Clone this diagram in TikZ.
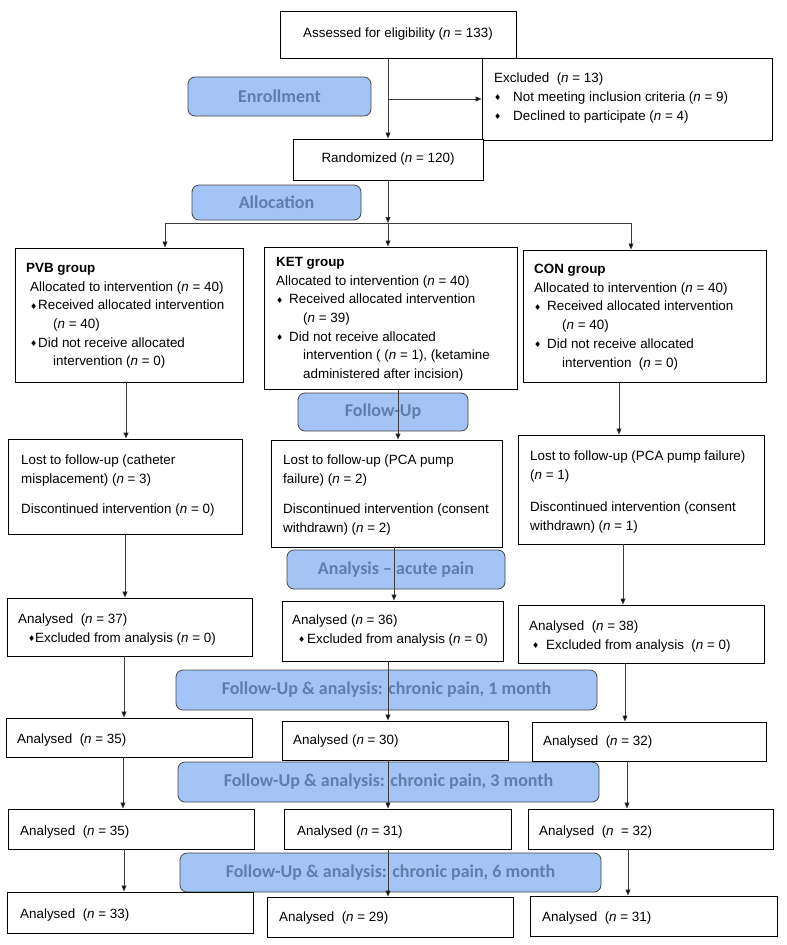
\documentclass[tikz,border=0pt]{standalone}
\usepackage{fontspec}
\setmainfont{Liberation Sans}
\newfontfamily\pillfont{Carlito}
\newfontfamily\dvfont{DejaVu Sans}
\usetikzlibrary{arrows.meta,calc}
\definecolor{pillfill}{RGB}{164,196,245}
\definecolor{pilltext}{RGB}{95,126,175}
\definecolor{pillline}{RGB}{70,70,70}
\definecolor{lineg}{RGB}{60,60,60}
\newcommand\dmd{{\dvfont\fontsize{8}{8}\selectfont\raisebox{0.8pt}{♦}}}
\newcommand\bul[1][8pt]{\makebox[#1][l]{\dmd}}
\newcommand\nn{\textit{n}}
\newcommand\bx[7]{\node[#1, minimum width={(#5-#3)*1pt}, minimum height={(#6-#4)*1pt}] (#2) at ({(#3+#5)/2},{(#4+#6)/2}) {#7};}
\begin{document}
\begin{tikzpicture}[x=1pt,y=-1pt,
  box/.style={draw=black, line width=0.9pt, fill=white, inner sep=0pt, font=\fontsize{13.4}{19}\selectfont},
  pill/.style={draw=pillline, line width=0.8pt, fill=pillfill, rounded corners=7pt, inner sep=0pt, text=pilltext, font=\pillfont\bfseries\fontsize{18}{18}\selectfont},
  txt/.style={anchor=north west, inner sep=0pt, align=left, font=\fontsize{13.4}{18.7}\selectfont},
  arr/.style={draw=lineg, line width=0.8pt, -{Triangle[length=6pt,width=5pt,fill=black]}},
  ln/.style={draw=lineg, line width=0.8pt}]
\fill[white] (0,0) rectangle (787,945);
\useasboundingbox (0,0) rectangle (787,945);
% pills
\bx{pill}{penr}{188}{77}{371}{116}{Enrollment}
\bx{pill}{palloc}{192}{185}{361}{220}{Allocation}
\bx{pill}{pfol}{298}{393}{468}{431}{Follow-Up}
\bx{pill}{pacute}{287}{550}{505}{589}{Analysis – acute pain}
\bx{pill}{pone}{176}{670}{597}{710}{Follow-Up \& analysis: chronic pain, 1 month}
\bx{pill}{pthree}{178}{762}{599}{802}{Follow-Up \& analysis: chronic pain, 3 month}
\bx{pill}{psix}{180}{853}{601}{892}{Follow-Up \& analysis: chronic pain, 6 month}
% boxes
\bx{box}{assess}{280}{11}{516}{58}{Assessed for eligibility (\nn{} = 133)}
\bx{box}{excl}{482}{58}{772}{140}{}
\bx{box}{rand}{293}{139}{483}{180}{Randomized (\nn{} = 120)}
\bx{box}{pvb}{15}{248}{243}{382}{}
\bx{box}{ket}{264}{247}{517}{389}{}
\bx{box}{con}{523}{250}{766}{382}{}
\bx{box}{pvbL}{8}{439}{242}{534}{}
\bx{box}{ketL}{271}{440}{502}{547}{}
\bx{box}{conL}{518}{435}{764}{544}{}
\bx{box}{pvbA}{7}{598}{252}{656}{}
\bx{box}{ketA}{282}{601}{503}{661}{}
\bx{box}{conA}{518}{605}{764}{663}{}
\bx{box}{pvbB}{6}{718}{252}{757}{}
\bx{box}{ketB}{282}{721}{508}{760}{}
\bx{box}{conB}{532}{722}{766}{761}{}
\bx{box}{pvbC}{8}{809}{254}{849}{}
\bx{box}{ketC}{284}{809}{511}{849}{}
\bx{box}{conC}{528}{809}{773}{849}{}
\bx{box}{pvbD}{7}{892}{253}{933}{}
\bx{box}{ketD}{267}{897}{513}{937}{}
\bx{box}{conD}{530}{896}{777}{936}{}
% texts
\node[txt] (texcl) at (494,73) {Excluded\ \ (\nn{} = 13)\\\bul[19pt]Not meeting inclusion criteria (\nn{} = 9)\\\bul[19pt]Declined to participate (\nn{} = 4)};
\node[txt] (tpvb) at (26,263) {\textbf{PVB group}\\\hspace*{4pt}Allocated to intervention (\nn{} = 40)\\\hspace*{4pt}\bul[8pt]Received allocated intervention\\\hspace*{27pt}(\nn{} = 40)\\\hspace*{4pt}\bul[8pt]Did not receive allocated\\\hspace*{27pt}intervention (\nn{} = 0)};
\node[txt] (tket) at (276,257) {\textbf{KET group}\\Allocated to intervention (\nn{} = 40)\\\bul[13pt]Received allocated intervention\\\hspace*{27pt}(\nn{} = 39)\\\bul[13pt]Did not receive allocated\\\hspace*{27pt}intervention ( (\nn{} = 1), (ketamine\\\hspace*{27pt}administered after incision)};
\node[txt] (tcon) at (534,264) {\textbf{CON group}\\Allocated to intervention (\nn{} = 40)\\\bul[13pt]Received allocated intervention\\\hspace*{28pt}(\nn{} = 40)\\\bul[13pt]Did not receive allocated\\\hspace*{28pt}intervention\ \ (\nn{} = 0)};
\node[txt] (tpvbL1) at (21,455) {Lost to follow-up (catheter\\misplacement) (\nn{} = 3)};
\node[txt] (tpvbL2) at (21,504) {Discontinued intervention (\nn{} = 0)};
\node[txt] (tketL1) at (283,455) {Lost to follow-up (PCA pump\\failure) (\nn{} = 2)};
\node[txt] (tketL2) at (283,504) {Discontinued intervention (consent\\withdrawn) (\nn{} = 2)};
\node[txt] (tconL1) at (530,451) {Lost to follow-up (PCA pump failure)\\(\nn{} = 1)};
\node[txt] (tconL2) at (530,502) {Discontinued intervention (consent\\withdrawn) (\nn{} = 1)};
\node[txt] (tpvbA) at (18,614) {Analysed\ \ (\nn{} = 37)\\\hspace*{10pt}\bul[7pt]Excluded from analysis (\nn{} = 0)};
\node[txt] (tketA) at (292,615) {Analysed (\nn{} = 36)\\\hspace*{6pt}\bul[9pt]Excluded from analysis (\nn{} = 0)};
\node[txt] (tconA) at (529,621) {Analysed\ \ (\nn{} = 38)\\\hspace*{3pt}\bul[14pt]Excluded from analysis\ \ (\nn{} = 0)};
\node[txt] (tpvbB) at (17,734) {Analysed\ \ (\nn{} = 35)};
\node[txt] (tketB) at (293,735) {Analysed (\nn{} = 30)};
\node[txt] (tconB) at (543,736) {Analysed\ \ (\nn{} = 32)};
\node[txt] (tpvbC) at (20,826) {Analysed\ \ (\nn{} = 35)};
\node[txt] (tketC) at (297,826) {Analysed (\nn{} = 31)};
\node[txt] (tconC) at (539,826) {Analysed\ \ (\nn{}\ \ = 32)};
\node[txt] (tpvbD) at (20,909) {Analysed\ \ (\nn{} = 33)};
\node[txt] (tketD) at (279,912) {Analysed\ \ (\nn{} = 29)};
\node[txt] (tconD) at (542,912) {Analysed\ \ (\nn{} = 31)};
% column coordinates
\coordinate (split) at (388,223);
\coordinate (splitA) at (165,223);
\coordinate (splitC) at (631,223);
\coordinate (ca1) at (126,0);
\coordinate (ca2) at (125,0);
\coordinate (ca3) at (124,0);
\coordinate (ca4) at (123,0);
\coordinate (cb1) at (398,0);
\coordinate (cb2) at (394,0);
\coordinate (cb3) at (388,0);
\coordinate (cc1) at (619,0);
\coordinate (cc2) at (623,0);
\coordinate (cc3) at (625,0);
\coordinate (cc4) at (627,0);
\coordinate (cc5) at (628,0);
% connectors
\draw[arr] (rand.north |- assess.south) -- (rand.north);
\draw[arr] (rand.north |- excl.west) -- (excl.west);
\draw[arr] (rand.south) -- (split);
\draw[ln] (splitA) -- (splitC);
\draw[arr] (splitA) -- (splitA |- pvb.north);
\draw[arr] (split) -- (split |- ket.north);
\draw[arr] (splitC) -- (splitC |- con.north);
\draw[arr] (ca1 |- pvb.south) -- (ca1 |- pvbL.north);
\draw[arr] (ca2 |- pvbL.south) -- (ca2 |- pvbA.north);
\draw[arr] (ca3 |- pvbA.south) -- (ca3 |- pvbB.north);
\draw[arr] (ca4 |- pvbB.south) -- (ca4 |- pvbC.north);
\draw[arr] (ca3 |- pvbC.south) -- (ca3 |- pvbD.north);
\draw[arr] (cb1 |- ket.south) -- (cb1 |- ketL.north);
\draw[arr] (cb2 |- ketL.south) -- (cb2 |- ketA.north);
\draw[arr] (cb3 |- ketA.south) -- (cb3 |- ketB.north);
\draw[arr] (cb3 |- ketB.south) -- (cb3 |- ketC.north);
\draw[arr] (cb3 |- ketC.south) -- (cb3 |- ketD.north);
\draw[arr] (cc1 |- con.south) -- (cc1 |- conL.north);
\draw[arr] (cc2 |- conL.south) -- (cc2 |- conA.north);
\draw[arr] (cc3 |- conA.south) -- (cc3 |- conB.north);
\draw[arr] (cc4 |- conB.south) -- (cc4 |- conC.north);
\draw[arr] (cc5 |- conC.south) -- (cc5 |- conD.north);
\end{tikzpicture}
\end{document}
